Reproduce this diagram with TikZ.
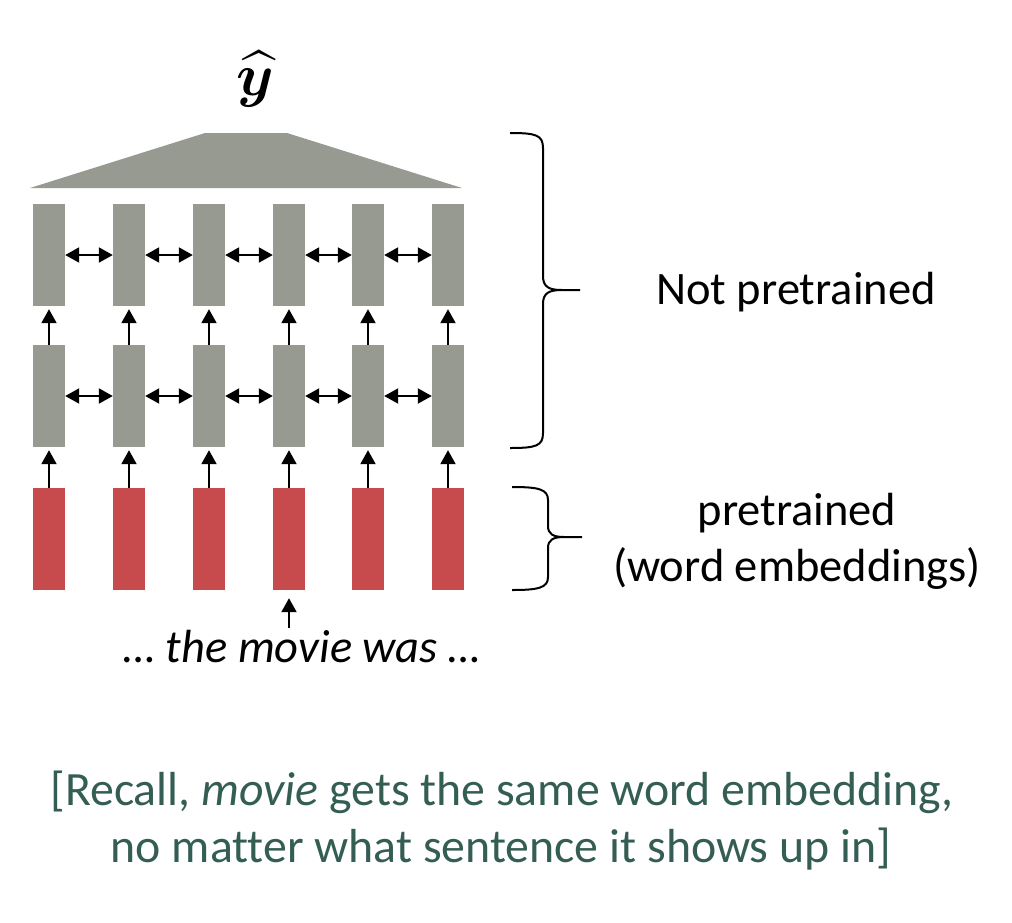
\documentclass[tikz,border=0pt]{standalone}
\usepackage{amsmath}
\usepackage{bm}
\usepackage{graphicx}
\usepackage{fontspec}
\setmainfont{Carlito}[Ligatures=NoCommon]
\usetikzlibrary{arrows.meta}
\definecolor{cellgray}{RGB}{150,154,145}
\definecolor{embred}{RGB}{199,75,77}
\definecolor{noteteal}{RGB}{52,94,84}
\begin{document}
\begin{tikzpicture}[x=1pt,y=-1pt,
  cell/.style={rectangle,fill=cellgray,minimum width=32pt,minimum height=102pt,inner sep=0pt},
  emb/.style={cell,fill=embred},
  conn/.style={line width=2pt,-{Triangle[width=15pt,length=14pt]}},
  biconn/.style={line width=2pt,{Triangle[width=15pt,length=14pt]}-{Triangle[width=15pt,length=14pt]}},
  txt/.style={font=\fontsize{46.5}{56}\selectfont,anchor=base,inner sep=0pt},
  itxt/.style={font=\fontsize{46.5}{56}\selectfont\itshape,anchor=base,inner sep=0pt},
  note/.style={font=\fontsize{47.8}{58}\selectfont,anchor=base,inner sep=0pt,text=noteteal},
  brace/.style={line width=2pt}]
\useasboundingbox (0,0) rectangle (1012,922);
% cells
\foreach \i/\x in {1/49,2/129,3/209,4/289,5/368,6/448} {
  \node[cell] (t\i) at (\x,255) {};
  \node[cell] (m\i) at (\x,396) {};
  \node[emb]  (r\i) at (\x,539) {};
}
% vertical arrows
\foreach \i in {1,...,6} {
  \draw[conn,shorten >=3pt] (r\i.north) -- (m\i.south);
  \draw[conn,shorten >=3pt] (m\i.north) -- (t\i.south);
}
% bidirectional arrows
\foreach \i/\j in {1/2,2/3,3/4,4/5,5/6} {
  \draw[biconn] (t\i.east) -- (t\j.west);
  \draw[biconn] (m\i.east) -- (m\j.west);
}
% pooling trapezoid
\fill[cellgray] (30,188) -- (205,133) -- (287,133) -- (462,188) -- cycle;
\node[inner sep=0pt] (yhat) at (255,79) {\scalebox{6}{$\widehat{\bm{y}}$}};
% input arrow
\coordinate (src) at (289,628);
\draw[conn,shorten >=8pt] (src) -- (r4.south);
% braces
\draw[brace] (510,133) .. controls (536,133) and (543,135) .. (543,148) -- (543,276)
  .. controls (543,287) and (549,290) .. (562,290) -- (580,290)
  (562,290) .. controls (549,290) and (543,293) .. (543,304) -- (543,433)
  .. controls (543,446) and (536,448) .. (510,448);
\draw[brace] (512,487) .. controls (538,487) and (548,489) .. (548,500) -- (548,526)
  .. controls (548,534) and (553,537) .. (564,537) -- (582,537)
  (564,537) .. controls (553,537) and (548,540) .. (548,548) -- (548,577)
  .. controls (548,588) and (538,590) .. (512,590);
% labels
\node[txt] (np) at (796,304) {Not pretrained};
\node[txt] (pt) at (797,525) {pretrained};
\node[txt] (we) at (797,581) {(word embeddings)};
\node[itxt] (sent) at (302,662) {… the movie was …};
\node[note] (n1) at (502,805) {[Recall, \textit{movie} gets the same word embedding,};
\node[note] (n2) at (501,862) {no matter what sentence it shows up in]};
\end{tikzpicture}
\end{document}
